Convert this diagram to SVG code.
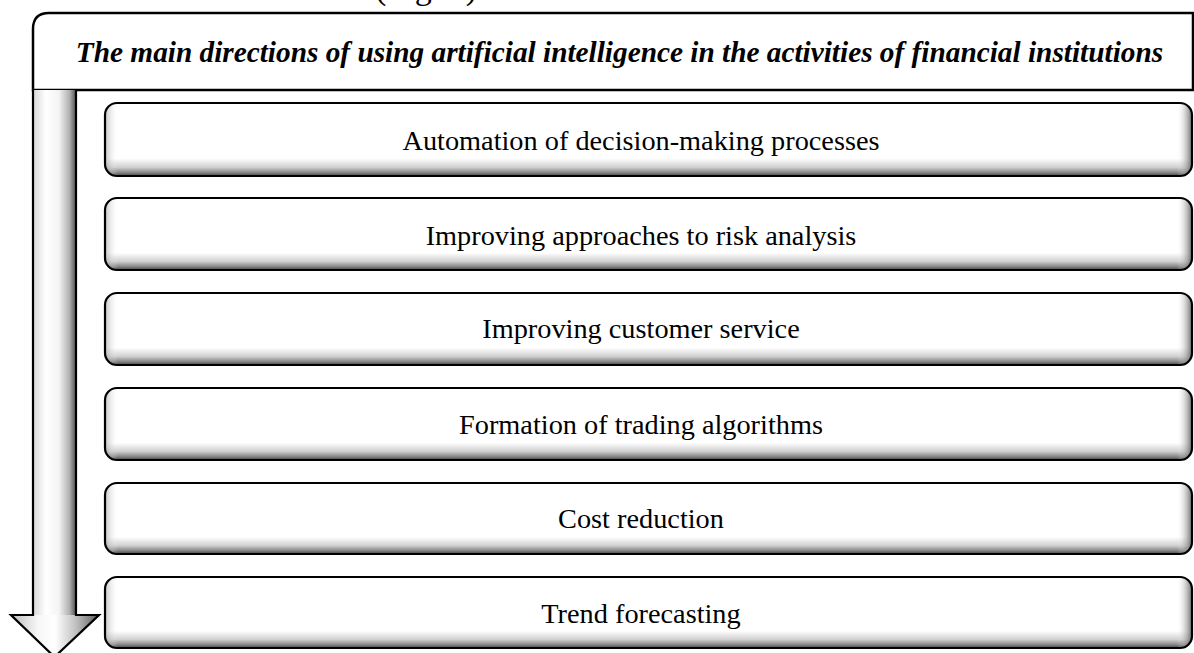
<svg xmlns="http://www.w3.org/2000/svg" width="1194" height="653" viewBox="0 0 1194 653">
<defs>
<linearGradient id="gv" x1="0" y1="0" x2="0" y2="1">
<stop offset="0" stop-color="#ffffff"/>
<stop offset="0.76" stop-color="#ffffff"/>
<stop offset="0.88" stop-color="#d0d0d0"/>
<stop offset="0.95" stop-color="#8a8a8a"/>
<stop offset="1" stop-color="#444444"/>
</linearGradient>
<linearGradient id="gh" x1="0" y1="0" x2="1" y2="0">
<stop offset="0" stop-color="#9a9a9a" stop-opacity="0.6"/>
<stop offset="0.012" stop-color="#ffffff" stop-opacity="0"/>
<stop offset="0.986" stop-color="#ffffff" stop-opacity="0"/>
<stop offset="1" stop-color="#555555" stop-opacity="0.85"/>
</linearGradient>
<linearGradient id="ga" gradientUnits="userSpaceOnUse" x1="33" y1="0" x2="76" y2="0">
<stop offset="0" stop-color="#d8d8d8"/>
<stop offset="0.3" stop-color="#ffffff"/>
<stop offset="0.6" stop-color="#f4f4f4"/>
<stop offset="0.85" stop-color="#b0b0b0"/>
<stop offset="1" stop-color="#505050"/>
</linearGradient>
<linearGradient id="gah" gradientUnits="userSpaceOnUse" x1="11" y1="0" x2="99" y2="0">
<stop offset="0" stop-color="#bdbdbd"/>
<stop offset="0.3" stop-color="#f6f6f6"/>
<stop offset="0.5" stop-color="#ffffff"/>
<stop offset="0.75" stop-color="#bcbcbc"/>
<stop offset="1" stop-color="#5a5a5a"/>
</linearGradient>
</defs>
<style>
.fill{fill:url(#gv)}
.side{fill:url(#gh)}
.edge{fill:none;stroke:#000;stroke-width:2.2}
.lbl{font-family:"Liberation Serif","Times New Roman",serif;font-size:28.3px;fill:#000;text-anchor:middle}
.title{font-family:"Liberation Serif","Times New Roman",serif;font-size:29.3px;font-weight:bold;font-style:italic;fill:#000;text-anchor:middle}
.frame{fill:#fff;stroke:#000;stroke-width:2.5}
</style>
<rect width="1194" height="653" fill="#fff"/>
<text x="375" y="-1" font-family="'Liberation Serif','Times New Roman',serif" font-size="34">(Fig. 1)</text>
<g id="header">
<path class="frame" d="M33,90 V29 Q33,13 49,13 H1193 V90 Z"/>
<text class="title" x="619.5" y="62">The main directions of using artificial intelligence in the activities of financial institutions</text>
</g>
<g id="connectors">
<path d="M33,90 H76 V615 H99 L54.5,657 L11,615 H33 Z" fill="url(#ga)" stroke="none"/>
<path d="M11,615 H99 L54.5,657 Z" fill="url(#gah)"/>
<path d="M33,90 V615 H11 L54.5,657 L99,615 H76 V90" fill="none" stroke="#000" stroke-width="2.2" stroke-linejoin="miter"/>
</g>
<g id="box1">
<rect class="fill" x="105" y="103" width="1087" height="73" rx="12"/>
<rect class="side" x="105" y="103" width="1087" height="73" rx="12"/>
<rect class="edge" x="105" y="103" width="1087" height="73" rx="12"/>
<text class="lbl" x="641" y="150">Automation of decision-making processes</text>
</g>
<g id="box2">
<rect class="fill" x="105" y="198" width="1087" height="72" rx="12"/>
<rect class="side" x="105" y="198" width="1087" height="72" rx="12"/>
<rect class="edge" x="105" y="198" width="1087" height="72" rx="12"/>
<text class="lbl" x="641" y="245">Improving approaches to risk analysis</text>
</g>
<g id="box3">
<rect class="fill" x="105" y="293" width="1087" height="72" rx="12"/>
<rect class="side" x="105" y="293" width="1087" height="72" rx="12"/>
<rect class="edge" x="105" y="293" width="1087" height="72" rx="12"/>
<text class="lbl" x="641" y="338">Improving customer service</text>
</g>
<g id="box4">
<rect class="fill" x="105" y="388" width="1087" height="72" rx="12"/>
<rect class="side" x="105" y="388" width="1087" height="72" rx="12"/>
<rect class="edge" x="105" y="388" width="1087" height="72" rx="12"/>
<text class="lbl" x="641" y="434">Formation of trading algorithms</text>
</g>
<g id="box5">
<rect class="fill" x="105" y="483" width="1087" height="71" rx="12"/>
<rect class="side" x="105" y="483" width="1087" height="71" rx="12"/>
<rect class="edge" x="105" y="483" width="1087" height="71" rx="12"/>
<text class="lbl" x="641" y="528">Cost reduction</text>
</g>
<g id="box6">
<rect class="fill" x="105" y="577" width="1087" height="71" rx="12"/>
<rect class="side" x="105" y="577" width="1087" height="71" rx="12"/>
<rect class="edge" x="105" y="577" width="1087" height="71" rx="12"/>
<text class="lbl" x="641" y="623">Trend forecasting</text>
</g>
</svg>
